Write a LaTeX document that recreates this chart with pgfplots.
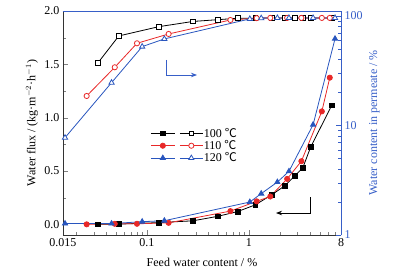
\documentclass[border=0pt]{standalone}
\usepackage{fontspec}
\setmainfont{Liberation Serif}
\newfontfamily\cjk{Noto Sans CJK SC}
\usepackage{pgfplots}
\pgfplotsset{compat=1.18}
\usetikzlibrary{arrows.meta}
\definecolor{myred}{RGB}{232,40,40}
\definecolor{myblue}{RGB}{40,85,190}
\definecolor{axblue}{RGB}{55,95,200}
\pgfplotsset{dbl legend/.style={legend image code/.code={%
  \draw[##1,mark options={fill=#1,solid},mark repeat=2,mark phase=2] plot coordinates {(0pt,0pt)(12pt,0pt)(24pt,0pt)};
  \draw[##1,mark repeat=2,mark phase=2] plot coordinates {(29pt,0pt)(40.5pt,0pt)(52pt,0pt)};}}}
\begin{document}
\begin{tikzpicture}[x=1pt,y=1pt]
\useasboundingbox (0,0) rectangle (395,276);
\begin{axis}[at={(63pt,41pt)}, anchor=south west, scale only axis, width=278pt, height=224pt,
  xmode=log, xmin=0.015, xmax=8, tick align=inside, major tick length=5pt, minor tick length=3pt,
  /pgf/number format/assume math mode=true,
  tick label style={font=\fontsize{12}{14}\selectfont},
  label style={font=\fontsize{12}{14}\selectfont},
  ymin=-0.1, ymax=2.0,
  axis x line*=bottom, axis y line*=left,
  axis line style={black!80, line width=0.8pt},
  xtick={0.015,0.1,1,8}, xticklabels={0.015,0.1,1,8},
  minor xtick={0.02,0.03,0.04,0.05,0.06,0.07,0.08,0.09,0.2,0.3,0.4,0.5,0.6,0.7,0.8,0.9,2,3,4,5,6,7},
  ytick={0,0.5,1,1.5,2}, yticklabels={0.0,0.5,1.0,1.5,2.0},
  minor ytick={0.25,0.75,1.25,1.75},
  xlabel={Feed water content / \%},
  xlabel style={at={(axis description cs:0.5,-0.1205)}, anchor=center},
  ylabel={Water flux / (kg·m$^{-2}$·h$^{-1}$)},
  ylabel style={at={(axis description cs:-0.1115,0.5)}, anchor=center},
]
\addplot[black, line width=0.8pt, mark=square*, mark size=2.4pt] coordinates {(0.0328,0.000)(0.0529,0.002)(0.130,0.016)(0.282,0.033)(0.495,0.075)(0.776,0.12)(1.157,0.183)(1.68,0.278)(2.26,0.363)(2.80,0.452)(3.38,0.531)(4.03,0.724)(6.49,1.115)};
\addplot[myred, line width=0.8pt, mark=*, mark size=2.6pt] coordinates {(0.0256,0.0)(0.0483,0.005)(0.0798,0.005)(0.163,0.014)(0.658,0.124)(1.19,0.216)(1.62,0.261)(2.37,0.426)(3.27,0.592)(5.19,1.059)(6.21,1.375)};
\addplot[myblue, line width=0.8pt, mark=triangle*, mark size=3pt] coordinates {(0.0157,0.007)(0.0449,0.007)(0.0897,0.025)(0.148,0.034)(1.02,0.209)(1.32,0.288)(1.90,0.396)(2.47,0.497)(4.26,0.934)(6.99,1.740)};
\end{axis}
\begin{axis}[at={(63pt,41pt)}, anchor=south west, scale only axis, width=278pt, height=224pt,
  xmode=log, xmin=0.015, xmax=8, tick align=inside, major tick length=5pt, minor tick length=3pt,
  /pgf/number format/assume math mode=true,
  tick label style={font=\fontsize{12}{14}\selectfont},
  label style={font=\fontsize{12}{14}\selectfont},
  ymode=log, ymin=1, ymax=111,
  axis x line*=top, axis y line*=right,
  axis line style={axblue, line width=0.8pt},
  xmajorticks=false, xminorticks=false,
  ytick={1,10,100}, yticklabels={1,10,100},
  y tick label style={axblue}, ytick style={axblue},
  ylabel={Water content in permeate / \%},
  ylabel style={axblue, at={(axis description cs:1.12,0.5)}, anchor=center},
  legend style={draw=none, fill=none, at={(axis description cs:0.303,0.49)}, anchor=north west,
    font=\fontsize{12}{14}\selectfont, nodes={inner sep=0.6pt}, row sep=0.5pt},
  legend cell align=left,
]
\addplot[black, line width=0.8pt, mark=square*, mark size=2.4pt, mark options={fill=white}, dbl legend=black] coordinates {(0.0328,37.0)(0.0529,65.7)(0.130,79.8)(0.282,89.1)(0.495,92.5)(0.776,95.3)(1.157,95.5)(1.68,96)(2.26,96)(2.80,96)(3.38,96)(4.03,96)(6.49,96)};
\addlegendentry{100 {\cjk ℃}}
\addplot[myred, line width=0.8pt, mark=*, mark size=2.6pt, mark options={fill=white}, dbl legend=myred] coordinates {(0.0256,18.6)(0.0483,34.0)(0.0798,56.3)(0.163,68.5)(0.658,91.9)(1.19,95.5)(1.62,96)(2.37,96)(3.27,96)(5.19,96)(6.21,96)};
\addlegendentry{110 {\cjk ℃}}
\addplot[myblue, line width=0.8pt, mark=triangle*, mark size=3pt, mark options={fill=white}, dbl legend=myblue] coordinates {(0.0157,7.74)(0.0449,24.6)(0.0897,52.5)(0.148,61.7)(1.02,94)(1.32,95.5)(1.90,96)(2.47,96)(4.26,96)(6.99,96)};
\addlegendentry{120 {\cjk ℃}}
\end{axis}
\draw[axblue, line width=0.8pt, -{Stealth[length=6pt,width=4.5pt]}] (166,216) -- (166,201) -- (197,201);
\draw[black, line width=0.8pt, -{Stealth[length=6pt,width=4.5pt]}] (310,79) -- (310,63) -- (276,63);
\end{tikzpicture}
\end{document}
